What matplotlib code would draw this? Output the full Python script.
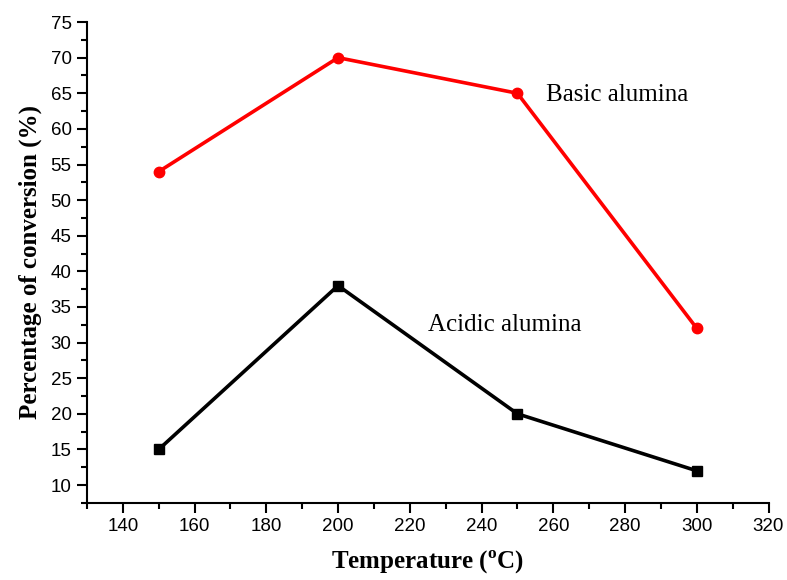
import numpy as np
import matplotlib
matplotlib.use("Agg")
import matplotlib.pyplot as plt
from matplotlib.ticker import MultipleLocator

temps = [150, 200, 250, 300]
basic = [54, 70, 65, 32]
acidic = [15, 38, 20, 12]

fig = plt.figure(figsize=(7.87, 5.8), dpi=100)
ax = fig.add_axes([0.1105, 0.133, 0.866, 0.829])

ax.plot(temps, basic, color="red", lw=2.6, marker="o", ms=7.5)
ax.plot(temps, acidic, color="black", lw=2.6, marker="s", ms=6.5)

ax.text(258, 64.8, "Basic alumina", family="Liberation Serif", fontsize=18, va="center")
ax.text(225, 32.4, "Acidic alumina", family="Liberation Serif", fontsize=18, va="center")

ax.set_xlim(130, 320)
ax.set_ylim(7.5, 75)
ax.xaxis.set_minor_locator(MultipleLocator(10))
ax.yaxis.set_minor_locator(MultipleLocator(2.5))
ax.set_xticks(np.arange(140, 321, 20))
ax.set_yticks(np.arange(10, 76, 5))

for s in ["top", "right"]:
    ax.spines[s].set_visible(False)
for s in ["left", "bottom"]:
    ax.spines[s].set_linewidth(1.5)
ax.tick_params(which="major", direction="out", length=7, width=1.5, labelsize=13.5, pad=4)
ax.tick_params(which="minor", direction="out", length=4, width=1.5)
for lbl in ax.get_xticklabels() + ax.get_yticklabels():
    lbl.set_family("Liberation Sans")

ax.set_xlabel(r"Temperature ($^{\mathregular{o}}$C)", family="Liberation Serif",
              fontsize=18, fontweight="bold", labelpad=10)
ax.set_ylabel("Percentage of conversion (%)", family="Liberation Serif",
              fontsize=18, fontweight="bold", labelpad=6)

fig.savefig("out.png", dpi=100)
